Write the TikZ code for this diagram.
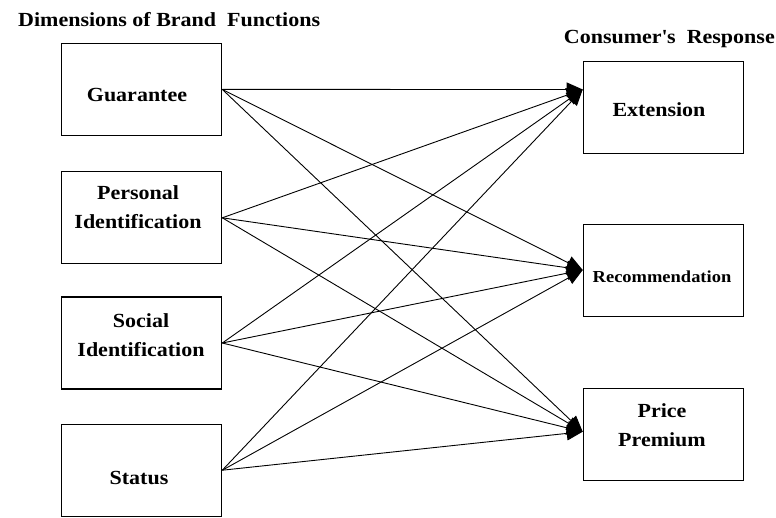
\documentclass[tikz,border=0pt]{standalone}
\usepackage{fontspec}
\setmainfont[FakeStretch=1.1]{Liberation Serif}
\usetikzlibrary{arrows.meta}
\tikzset{
  fbox/.style={draw, line width=1.2pt, minimum width=160pt, minimum height=92pt, inner sep=0pt},
  lbl/.style={font=\fontsize{20}{29}\selectfont\bfseries, inner sep=0pt, align=center},
  slbl/.style={font=\fontsize{16.8}{20}\selectfont\bfseries, inner sep=0pt, align=center},
  conn/.style={line width=0.9pt, -{Triangle[length=16pt,width=14pt]}}
}
\begin{document}
\begin{tikzpicture}[x=1pt,y=-1pt]
\useasboundingbox (0,0) rectangle (776,517);
% titles
\node[lbl, anchor=base west] (t1) at (18,26.5) {Dimensions of Brand\ \ Functions};
\node[lbl, anchor=base east] (t2) at (775,43.5) {Consumer\textquotesingle s\ \ Response};
% left boxes
\node[fbox] (g) at (141.7,89.4) {};
\node[fbox] (p) at (141.7,217.8) {};
\node[fbox] (s) at (141.7,343) {};
\node[fbox] (st) at (141.7,470.2) {};
% right boxes
\node[fbox] (e) at (663.3,107.8) {};
\node[fbox] (r) at (663.3,270.8) {};
\node[fbox] (pp) at (663.3,434.2) {};
% labels
\node[lbl, anchor=base] (gl) at (137,101.5) {Guarantee};
\node[lbl] (pl) at (138,207.3) {Personal\\Identification};
\node[lbl] (sl) at (141,335) {Social\\Identification};
\node[lbl, anchor=base] (stl) at (139,484) {Status};
\node[lbl, anchor=base] (el) at (659,116.5) {Extension};
\node[slbl, anchor=base] (rl) at (662,282) {Recommendation};
\node[lbl] (ppl) at (662,425.5) {Price\\Premium};
% arrow ends
\coordinate (eIn) at (582.7,89.5);
\coordinate (rIn) at (582.7,270);
\coordinate (pIn) at (582.7,431.7);
% connectors
\foreach \src in {g,p,s,st}{
  \draw[conn] (\src.east) -- (eIn);
  \draw[conn] (\src.east) -- (rIn);
  \draw[conn] (\src.east) -- (pIn);
}
\end{tikzpicture}
\end{document}
